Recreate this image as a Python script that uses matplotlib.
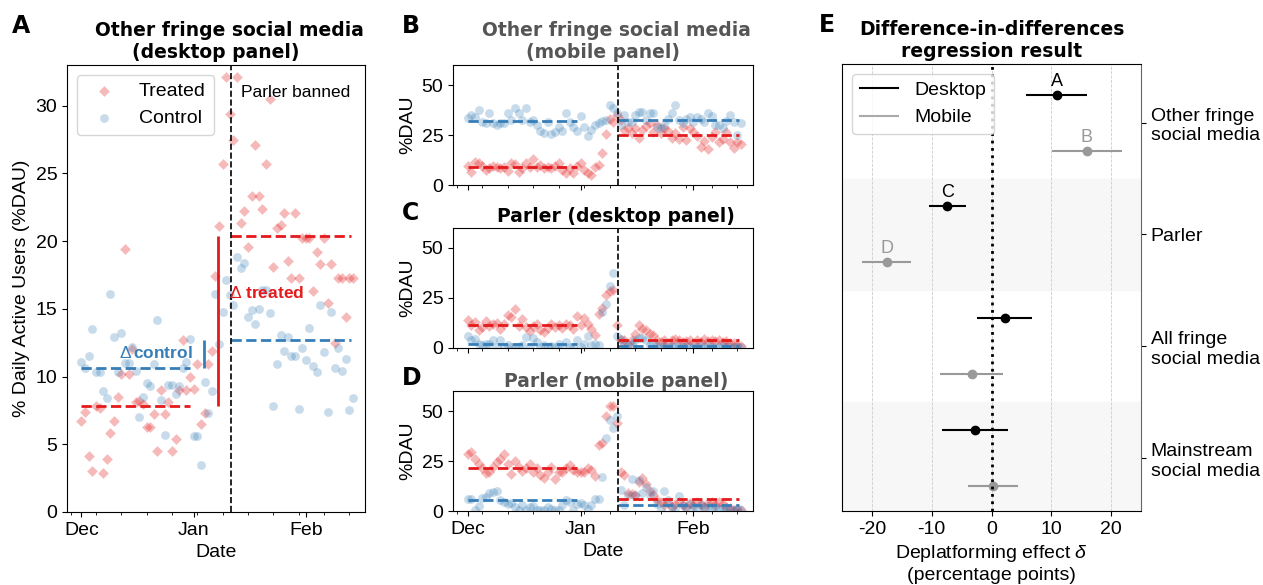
import matplotlib
matplotlib.use("Agg")
import matplotlib.pyplot as plt
import matplotlib.dates as mdates
from matplotlib.lines import Line2D
import numpy as np
import pandas as pd

plt.rcParams["font.family"] = ["Liberation Sans", "DejaVu Sans"]
plt.rcParams["axes.unicode_minus"] = False
plt.rcParams["mathtext.fontset"] = "custom"
plt.rcParams["mathtext.rm"] = "Liberation Sans"
plt.rcParams["mathtext.it"] = "Liberation Sans:italic"

RED = "#e41a1c"
BLUE = "#377eb8"
GRAY = "#999999"

DATES = pd.date_range("2020-12-01", periods=76, freq="D")
BAN_DATE = pd.Timestamp("2021-01-11 10:00")
PRE_START = pd.Timestamp("2020-12-01")
PRE_END = pd.Timestamp("2020-12-31")
POST_END = pd.Timestamp("2021-02-13 12:00")

# panel A: other fringe social media, desktop
a_treated = [6.7, 7.4, 4.1, 3.0, 7.8, 7.7, 2.9, 3.9, 5.8, 6.7,
             8.5, 10.2, 19.4, 10.2, 12.0, 8.1, 8.2, 8.0, 6.3, 6.3,
             7.2, 4.5, 9.0, 7.2, 8.1, 4.5, 5.4, 9.0, 12.7, 9.0,
             10.0, 9.1, 10.9, 6.5, 7.3, 10.9, 11.9, 17.4, 21.1, 25.7,
             32.1, 29.4, 27.5, 32.1, 21.3, 22.2, 19.6, 23.3, 27.1, 23.3,
             22.4, 25.7, 30.5, 18.1, 21.0, 21.2, 22.1, 18.5, 17.3, 22.1,
             17.3, 20.2, 20.2, 20.2, 16.3, 19.2, 18.3, 20.2, 15.4, 18.3,
             12.5, 17.3, 17.3, 14.4, 17.3, 17.3]
a_control = [11.1, 10.6, 11.5, 13.5, 10.3, 10.3, 8.9, 8.4, 16.1, 12.9,
             10.3, 13.2, 11.0, 11.0, 12.2, 10.4, 7.0, 8.5, 9.5, 9.3,
             10.9, 14.2, 8.3, 5.7, 9.4, 9.4, 8.7, 9.3, 10.6, 11.1,
             12.8, 5.6, 5.6, 3.5, 9.6, 7.3, 8.9, 16.1, 12.4, 14.8,
             17.1, 16.0, 15.3, 18.8, 18.0, 18.4, 14.4, 14.9, 13.9, 15.0,
             16.4, 16.4, 14.7, 7.8, 10.9, 13.1, 11.9, 12.9, 11.5, 11.5,
             7.6, 12.1, 11.2, 13.6, 10.8, 10.3, 15.3, 11.8, 7.4, 14.8,
             10.6, 12.1, 10.4, 11.3, 7.5, 8.4]
a_means = [7.86, 20.35, 10.6, 12.67]  # treated pre/post, control pre/post

# panel B: other fringe social media, mobile
b_treated = [9.5, 6.7, 11.7, 10.8, 9.5, 7.5, 8.3, 9.5, 8.8, 8.3,
             9.2, 7.0, 10.8, 10.5, 6.7, 8.3, 10.8, 9.2, 12.8, 8.8,
             10.0, 8.3, 8.8, 8.3, 9.5, 11.2, 7.5, 6.2, 8.3, 6.2,
             9.5, 10.8, 7.5, 6.2, 5.0, 8.8, 10.0, 15.8, 25.5, 33.0,
             31.7, 35.0, 32.5, 27.5, 28.3, 26.2, 28.3, 23.3, 27.5, 29.5,
             31.2, 26.7, 30.0, 26.2, 28.3, 27.2, 23.3, 25.8, 22.8, 29.2,
             22.5, 28.3, 26.7, 24.5, 18.8, 22.2, 17.8, 24.2, 26.7, 21.7,
             22.8, 26.7, 21.7, 18.3, 21.7, 20.5]
b_control = [33.3, 35.0, 34.0, 37.5, 31.7, 30.8, 35.8, 30.8, 30.0, 30.8,
             30.8, 35.8, 32.5, 38.3, 36.2, 32.5, 38.3, 31.7, 32.5, 30.0,
             27.0, 26.2, 31.7, 25.5, 26.7, 29.2, 27.0, 35.8, 31.7, 29.2,
             27.2, 34.5, 29.2, 24.5, 27.5, 30.0, 30.8, 32.0, 32.5, 40.0,
             38.3, 36.0, 30.0, 35.0, 31.7, 31.7, 35.0, 36.7, 36.7, 32.5,
             36.2, 35.8, 29.2, 28.3, 30.0, 32.8, 35.8, 40.0, 32.5, 30.8,
             32.8, 33.8, 31.7, 33.8, 32.8, 31.7, 36.2, 34.5, 30.0, 30.0,
             28.3, 32.0, 35.0, 31.7, 25.0, 31.0]
b_means = [8.8, 25.0, 31.9, 32.4]

# panel C: Parler, desktop
c_treated = [14.2, 11.3, 13.0, 9.2, 10.5, 13.5, 10.8, 11.8, 12.5, 9.7,
             12.2, 16.3, 15.5, 19.7, 10.8, 14.7, 10.5, 8.5, 10.8, 11.8,
             8.8, 8.0, 10.2, 11.8, 10.5, 11.3, 10.2, 11.8, 11.3, 9.7,
             15.8, 11.3, 15.0, 12.2, 9.7, 6.7, 17.2, 20.2, 26.3, 28.5,
             29.2, 11.3, 3.8, 3.8, 2.2, 4.2, 7.2, 11.3, 9.7, 8.8,
             7.2, 6.3, 4.2, 3.0, 4.2, 2.5, 3.8, 4.7, 4.2, 3.0,
             3.5, 3.8, 2.5, 3.8, 3.0, 4.7, 3.5, 4.2, 3.5, 3.8,
             3.0, 3.5, 2.5, 2.5, 1.3, 0.8]
c_control = [5.8, 3.8, 4.7, 1.8, 1.7, 1.8, 2.2, 4.2, 0.5, 3.8,
             0.5, 1.3, 0.5, 0.2, 0.5, 1.7, 5.5, 0.5, 5.2, 3.0,
             0.5, 1.3, 0.5, 0.8, 0.5, 2.2, 0.5, 3.0, 0.5, 0.5,
             4.2, 0.5, 2.2, 5.8, 1.3, 1.8, 1.5, 18.0, 21.8, 31.0,
             37.5, 5.8, 4.7, 1.8, 1.3, 2.2, 3.8, 5.2, 5.2, 3.8,
             1.3, 1.8, 0.8, 0.5, 1.0, 0.5, 1.2, 0.5, 0.8, 0.3,
             1.0, 0.5, 0.7, 0.3, 1.0, 0.5, 0.8, 0.3, 0.6, 0.4,
             0.8, 0.3, 0.5, 0.4, 0.6, 0.3]
c_means = [11.4, 3.9, 2.1, 1.1]

# panel D: Parler, mobile
d_treated = [28.7, 29.5, 26.2, 23.7, 21.3, 18.8, 19.6, 22.1, 24.3, 26.2,
             28.7, 23.7, 18.3, 24.9, 22.1, 19.9, 21.3, 23.3, 19.3, 21.3,
             17.9, 16.3, 19.3, 22.1, 16.0, 19.6, 19.6, 21.3, 22.9, 20.4,
             19.3, 19.6, 19.3, 21.6, 20.4, 17.6, 32.9, 34.2, 47.5, 52.5,
             52.5, 44.0, 19.6, 17.9, 8.8, 8.3, 8.0, 14.6, 16.6, 13.3,
             10.0, 8.0, 5.5, 4.7, 3.0, 3.8, 2.2, 3.3, 4.7, 3.0,
             2.2, 3.8, 3.0, 4.3, 3.3, 2.2, 3.8, 4.7, 3.0, 4.3,
             3.3, 2.2, 1.3, 0.5, 1.0, 0.3]
d_control = [5.8, 5.8, 0.5, 2.7, 6.5, 7.1, 8.8, 9.6, 10.0, 5.5,
             4.7, 3.3, 3.8, 2.2, 0.5, 3.0, 0.5, 2.2, 2.7, 0.3,
             0.3, 0.3, 2.2, 1.0, 0.3, 0.3, 3.0, 5.5, 4.3, 0.3,
             3.3, 3.8, 3.0, 1.0, 3.0, 6.0, 5.8, 17.1, 36.5, 45.3,
             41.5, 47.5, 10.3, 3.0, 7.8, 16.2, 8.0, 15.3, 9.0, 12.0,
             7.8, 10.0, 3.7, 1.2, 9.8, 5.7, 2.0, 1.5, 7.3, 2.8,
             1.5, 3.5, 2.0, 1.0, 3.0, 1.5, 2.5, 1.0, 2.0, 1.0,
             1.5, 0.5, 1.0, 0.5, 0.8, 0.3]
d_means = [21.5, 5.8, 5.6, 3.1]

# panel E: difference-in-differences estimates
categories = ["Other fringe\nsocial media", "Parler",
              "All fringe\nsocial media", "Mainstream\nsocial media"]
desk_effect = [10.9, -7.4, 2.2, -2.8]
desk_lo = [5.7, -10.5, -2.4, -8.2]
desk_hi = [16.0, -4.3, 6.7, 2.7]
mob_effect = [15.9, -17.5, -3.3, 0.3]
mob_lo = [10.1, -21.7, -8.6, -3.9]
mob_hi = [21.8, -13.4, 2.0, 4.5]
point_letters = ["A", "B", "C", "D"]

W, H = 1263, 585


def box(left, top, right, bottom):
    return [left / W, 1 - bottom / H, (right - left) / W, (bottom - top) / H]


def ts_panel(ax, treated, control, means, ylim):
    ax.scatter(DATES, treated, marker="D", s=30, color=RED, alpha=0.3,
               linewidths=0, label="Treated", zorder=2)
    ax.scatter(DATES, control, marker="o", s=40, color=BLUE, alpha=0.28,
               linewidths=0, label="Control", zorder=2)
    ax.hlines(means[0], PRE_START, PRE_END, colors=RED, linestyles="--", lw=2, zorder=3)
    ax.hlines(means[1], BAN_DATE, POST_END, colors=RED, linestyles="--", lw=2, zorder=3)
    ax.hlines(means[2], PRE_START, PRE_END, colors=BLUE, linestyles="--", lw=2, zorder=3)
    ax.hlines(means[3], BAN_DATE, POST_END, colors=BLUE, linestyles="--", lw=2, zorder=3)
    ax.axvline(BAN_DATE, color="black", linestyle="--", lw=1.2, zorder=4)
    ax.set_xlim(PRE_START - pd.Timedelta(days=4), PRE_START + pd.Timedelta(days=78.35))
    ax.set_ylim(*ylim)
    ax.xaxis.set_major_locator(mdates.MonthLocator())
    ax.xaxis.set_major_formatter(mdates.DateFormatter("%b"))
    ax.xaxis.set_minor_locator(mdates.WeekdayLocator(byweekday=mdates.SA))
    ax.tick_params(labelsize=14)


fig = plt.figure(figsize=(12.63, 5.85), dpi=100)
axA = fig.add_axes(box(67, 65, 365, 512))
axB = fig.add_axes(box(453, 65, 753, 185))
axC = fig.add_axes(box(453, 228, 753, 348))
axD = fig.add_axes(box(453, 391, 753, 511))
axE = fig.add_axes(box(842, 64, 1141, 511))

title_kw = dict(fontfamily="DejaVu Sans", fontweight="bold", fontsize=13.5)

# A
ts_panel(axA, a_treated, a_control, a_means, (0, 33))
axA.set_ylabel("% Daily Active Users (%DAU)", fontsize=14)
axA.set_xlabel("Date", fontsize=14)
axA.set_title("    Other fringe social media\n(desktop panel)", pad=5, **title_kw)
axA.legend(loc="upper left", fontsize=14)
axA.text(BAN_DATE + pd.Timedelta(days=2.6), 30.65, "Parler banned", fontsize=12.5, va="baseline")
axA.vlines(PRE_START + pd.Timedelta(days=37.8), a_means[0], a_means[1], colors=RED, lw=2, zorder=3)
axA.vlines(PRE_START + pd.Timedelta(days=33.9), a_means[2], a_means[3], colors=BLUE, lw=2, zorder=3)
axA.text(PRE_START + pd.Timedelta(days=30.8), 11.75, r"$\Delta\,$control", color=BLUE,
         fontsize=12.5, fontweight="bold", ha="right", va="center", zorder=5)
axA.text(PRE_START + pd.Timedelta(days=40.9), 16.2, r"$\Delta$ treated", color=RED,
         fontsize=12.5, fontweight="bold", ha="left", va="center", zorder=5)

# B
ts_panel(axB, b_treated, b_control, b_means, (0, 60))
axB.set_ylabel("%DAU", fontsize=14)
axB.set_title("    Other fringe social media\n(mobile panel)", pad=5, color="#555555", **title_kw)
axB.tick_params(labelbottom=False)

# C
ts_panel(axC, c_treated, c_control, c_means, (0, 60))
axC.set_ylabel("%DAU", fontsize=14)
axC.set_title("    Parler (desktop panel)", pad=4.5, **title_kw)
axC.tick_params(labelbottom=False)

# D
ts_panel(axD, d_treated, d_control, d_means, (0, 60))
axD.set_ylabel("%DAU", fontsize=14)
axD.set_xlabel("Date", fontsize=14)
axD.set_title("    Parler (mobile panel)", pad=2, color="#555555", **title_kw)

for ax in (axB, axC, axD):
    ax.set_yticks([0, 25, 50])

# E
y_desk = np.arange(len(categories)) * 2.0
y_mob = y_desk + 1
for lo, hi in [(1.5, 3.5), (5.5, 7.5)]:
    axE.axhspan(lo, hi, color="#f7f7f7", zorder=0)
de = np.array(desk_effect)
me = np.array(mob_effect)
axE.errorbar(de, y_desk, xerr=[de - np.array(desk_lo), np.array(desk_hi) - de],
             fmt="o", color="black", ms=6, elinewidth=1.5, capsize=0, zorder=3)
axE.errorbar(me, y_mob, xerr=[me - np.array(mob_lo), np.array(mob_hi) - me],
             fmt="o", color=GRAY, ms=6, elinewidth=1.5, capsize=0, zorder=3)
axE.axvline(0, color="black", linestyle=":", lw=2, zorder=5)
letter_pts = [(de[0], y_desk[0], "black"), (me[0], y_mob[0], GRAY),
              (de[1], y_desk[1], "black"), (me[1], y_mob[1], GRAY)]
for letter, (x, y, col) in zip(point_letters, letter_pts):
    axE.annotate(letter, (x, y), xytext=(0, 6.5), textcoords="offset points",
                 ha="center", va="baseline", fontsize=13, color=col)
axE.set_xlim(-25, 25)
axE.set_ylim(7.45, -0.55)
axE.set_xticks([-20, -10, 0, 10, 20])
axE.set_axisbelow(True)
axE.grid(axis="x", linestyle="--", linewidth=0.6, color="#cccccc")
axE.set_yticks(y_desk + 0.5)
axE.set_yticklabels(categories)
axE.yaxis.tick_right()
axE.tick_params(labelsize=14)
axE.spines["right"].set_color("#666666")
axE.set_xlabel("Deplatforming effect $\\delta$\n(percentage points)", fontsize=14)
axE.set_title("Difference-in-differences\nregression result", pad=5, **title_kw)
handles = [Line2D([], [], color="black", lw=1.5), Line2D([], [], color="#aaaaaa", lw=1.5)]
axE.legend(handles, ["Desktop", "Mobile"], loc="upper left", fontsize=14)

# panel letters
letter_kw = dict(fontfamily="DejaVu Sans", fontweight="bold", fontsize=17, va="baseline")
for letter, x, y in [("A", 12, 33), ("B", 402, 33), ("C", 402, 220), ("D", 402, 385), ("E", 819, 32)]:
    fig.text(x / W, 1 - y / H, letter, **letter_kw)

fig.savefig("out.png", dpi=100)
